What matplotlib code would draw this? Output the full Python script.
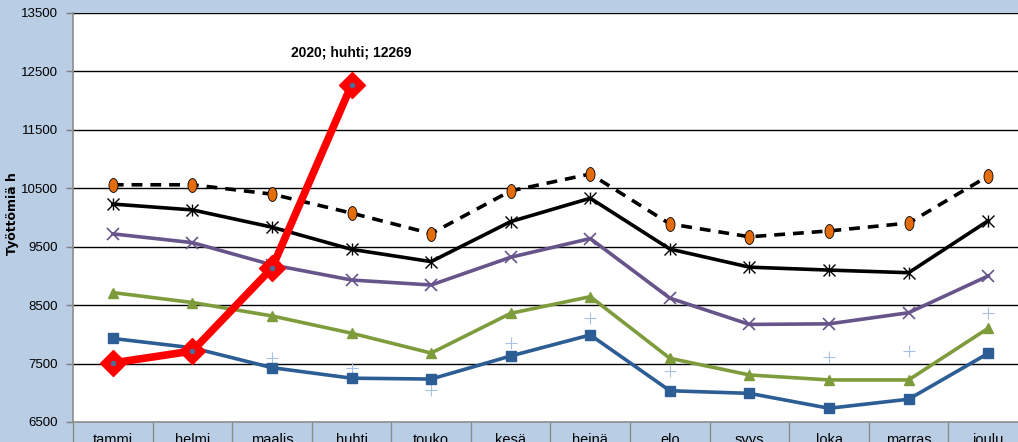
import numpy as np
import matplotlib.pyplot as plt
from matplotlib.path import Path

plt.rcParams['font.family'] = ['Liberation Sans', 'DejaVu Sans']

# kuukaudet
months = ['tammi', 'helmi', 'maalis', 'huhti', 'touko', 'kesä', 'heinä',
          'elo', 'syys', 'loka', 'marras', 'joulu']

# sarjat (luettu kuvasta)
s_dashed = [10560, 10560, 10400, 10075, 9725, 10455, 10745, 9890, 9670, 9770, 9905, 10710]
s_black = [10230, 10130, 9835, 9455, 9245, 9930, 10330, 9460, 9150, 9100, 9055, 9945]
s_purple = [9720, 9570, 9190, 8930, 8845, 9320, 9640, 8620, 8170, 8180, 8370, 9000]
s_green = [8715, 8545, 8315, 8020, 7680, 8360, 8645, 7590, 7305, 7220, 7220, 8105]
s_blue = [7930, 7770, 7430, 7250, 7235, 7630, 7990, 7035, 6990, 6735, 6890, 7675]
s_plus = [7600, 7680, 7590, 7420, 7050, 7855, 8275, 7380, 7320, 7620, 7720, 8370]
s_2020 = [7510, 7715, 9135, 12269]

yticks = [6500, 7500, 8500, 9500, 10500, 11500, 12500, 13500]

bg = '#b9cde5'
fig = plt.figure(figsize=(10.18, 4.42), dpi=100, facecolor=bg)
ax = fig.add_axes([73/1018, 1 - 422/442, (1028 - 73)/1018, (422 - 13)/442])
ax.set_facecolor('white')

x = np.arange(len(months))

for yv in yticks[1:]:
    ax.axhline(yv, color='black', lw=1.0, zorder=1)

# ellipsi-merkki oransseille pisteille
t = np.linspace(0, 2*np.pi, 40)
ell = Path(np.column_stack([0.65*np.cos(t), np.sin(t)]), closed=True)

ax.plot(x, s_plus, ls='none', marker='+', ms=9, mew=0.8, color='#a9c0e0', zorder=2)
ax.plot(x, s_blue, color='#2c5d94', lw=2.6, marker='s', ms=7, zorder=3)
ax.plot(x, s_green, color='#7e9c3c', lw=2.6, marker='^', ms=7.5, zorder=3)
ax.plot(x, s_purple, color='#66548a', lw=2.6, marker='x', ms=8, mew=1.2, zorder=3)
ax.plot(x, s_black, color='black', lw=2.6, zorder=3)
ax.plot(x, s_black, ls='none', marker='x', ms=8, mew=1.0, color='black', zorder=4)
ax.plot(x, s_black, ls='none', marker='|', ms=9, mew=1.0, color='black', zorder=4)
ax.plot(x, s_dashed, color='black', lw=2.6, ls=(0, (3, 2.2)), zorder=3)
ax.plot(x, s_dashed, ls='none', marker=ell, ms=10, mfc='#e46c0a', mec='black', mew=0.6, zorder=4)

x20 = x[:len(s_2020)]
ax.plot(x20, s_2020, color='#ff0000', lw=5.5, marker='D', ms=13, mfc='#ff0000', mec='#ff0000',
        zorder=5)
ax.plot(x20, s_2020, ls='none', marker='o', ms=3, color='#4f6b9a', zorder=6)

ax.annotate('2020; huhti; 12269', (x20[-1], s_2020[-1]), xytext=(0, 23),
            textcoords='offset points', ha='center', va='center',
            fontsize=10, fontweight='bold')

ax.set_xlim(-0.5, 11.5)
ax.set_ylim(6500, 13500)
ax.set_yticks(yticks)
ax.set_yticklabels([str(v) for v in yticks], fontsize=9.5)
ax.tick_params(axis='y', length=5, width=1, color='#808080', pad=6)

ax.set_xticks(x)
ax.set_xticklabels(months, fontsize=10.5)
ax.tick_params(axis='x', which='major', length=0, pad=8)
ax.set_xticks(np.arange(-0.5, 12, 1), minor=True)
ax.tick_params(axis='x', which='minor', length=30, width=1, color='#8c8c8c')

for s in ['top', 'right']:
    ax.spines[s].set_visible(False)
for s in ['left', 'bottom']:
    ax.spines[s].set_color('#8c8c8c')
    ax.spines[s].set_linewidth(1.2)

fig.text(13/1018, 1 - 214/442, 'Työttömiä h', rotation=90, ha='center', va='center',
         fontsize=9, fontweight='bold', family='DejaVu Sans')

fig.savefig('out.png', dpi=100, facecolor=bg)
